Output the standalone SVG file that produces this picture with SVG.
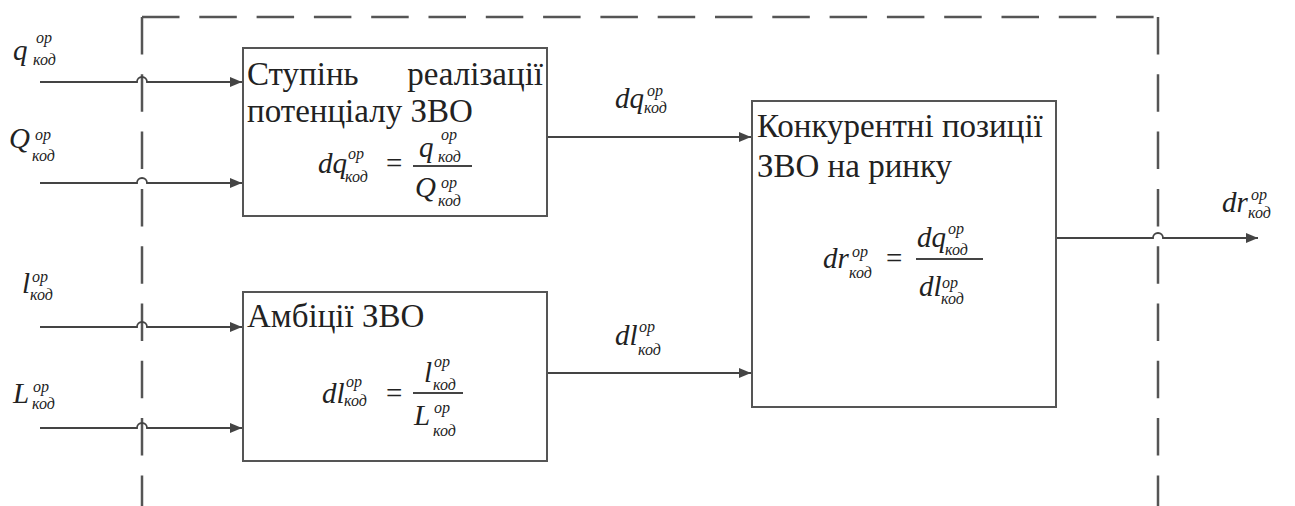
<svg xmlns="http://www.w3.org/2000/svg" width="1295" height="506" viewBox="0 0 1295 506">
<defs>
<marker id="ah" viewBox="0 0 12 10" refX="12" refY="5" markerWidth="12" markerHeight="10" markerUnits="userSpaceOnUse" orient="auto">
<path d="M0,0 L12,5 L0,10 Z" fill="#444"/>
</marker>
</defs>
<rect width="1295" height="506" fill="#fff"/>

<g id="boundary" fill="none" stroke="#555" stroke-width="2.5" stroke-dasharray="37.5 19.8">
<path d="M142,17 L1158,17"/>
<path d="M142,17 L142,506"/>
<path d="M1158,17 L1158,506"/>
</g>

<g id="connectors" fill="none" stroke="#444" stroke-width="1.8">
<path d="M40,82 L137,82 A5,5 0 0 1 147,82 L242,82" marker-end="url(#ah)"/>
<path d="M40,183 L137,183 A5,5 0 0 1 147,183 L242,183" marker-end="url(#ah)"/>
<path d="M40,327 L137,327 A5,5 0 0 1 147,327 L242,327" marker-end="url(#ah)"/>
<path d="M40,428 L137,428 A5,5 0 0 1 147,428 L242,428" marker-end="url(#ah)"/>
<path d="M547,137 L751,137" marker-end="url(#ah)"/>
<path d="M547,373 L751,373" marker-end="url(#ah)"/>
<path d="M1056,238 L1153,238 A5,5 0 0 1 1163,238 L1258,238" marker-end="url(#ah)"/>
</g>

<g id="in-q" fill="#222">
<text style="font-family:'Liberation Serif' !important;font-style:italic;font-size:29px" x="13" y="60">q</text>
<text style="font-family:'Liberation Serif' !important;font-style:italic;font-size:16px" x="36" y="43">op</text>
<text style="font-family:'Liberation Serif' !important;font-style:italic;font-size:16px" x="33" y="65">код</text>
</g>
<g id="in-Q" fill="#222">
<text style="font-family:'Liberation Serif' !important;font-style:italic;font-size:29px" x="9" y="148">Q</text>
<text style="font-family:'Liberation Serif' !important;font-style:italic;font-size:16px" x="35" y="140">op</text>
<text style="font-family:'Liberation Serif' !important;font-style:italic;font-size:16px" x="32" y="161">код</text>
</g>
<g id="in-l" fill="#222">
<text style="font-family:'Liberation Serif' !important;font-style:italic;font-size:29px" x="22" y="293">l</text>
<text style="font-family:'Liberation Serif' !important;font-style:italic;font-size:16px" x="32" y="282">op</text>
<text style="font-family:'Liberation Serif' !important;font-style:italic;font-size:16px" x="30" y="300">код</text>
</g>
<g id="in-L" fill="#222">
<text style="font-family:'Liberation Serif' !important;font-style:italic;font-size:29px" x="13" y="403">L</text>
<text style="font-family:'Liberation Serif' !important;font-style:italic;font-size:16px" x="33" y="392">op</text>
<text style="font-family:'Liberation Serif' !important;font-style:italic;font-size:16px" x="32" y="409">код</text>
</g>

<g id="box1" fill="#222">
<rect x="243" y="48" width="304" height="168" fill="#fff" stroke="#555" stroke-width="2"/>
<text style="font-family:'Liberation Serif' !important;font-size:33px" y="85"><tspan x="247">Ступінь</tspan><tspan x="543" text-anchor="end">реалізації</tspan></text>
<text style="font-family:'Liberation Serif' !important;font-size:33px" x="247" y="122">потенціалу ЗВО</text>
<text style="font-family:'Liberation Serif' !important;font-style:italic;font-size:29px" x="318" y="173">dq</text>
<text style="font-family:'Liberation Serif' !important;font-style:italic;font-size:16px" x="348" y="159">op</text>
<text style="font-family:'Liberation Serif' !important;font-style:italic;font-size:16px" x="345" y="182">код</text>
<text style="font-family:'Liberation Serif' !important;font-size:29px" x="386" y="173">=</text>
<line x1="413" y1="166" x2="472" y2="166" stroke="#444" stroke-width="1.8"/>
<text style="font-family:'Liberation Serif' !important;font-style:italic;font-size:29px" x="419" y="157">q</text>
<text style="font-family:'Liberation Serif' !important;font-style:italic;font-size:16px" x="441" y="140">op</text>
<text style="font-family:'Liberation Serif' !important;font-style:italic;font-size:16px" x="438" y="162">код</text>
<text style="font-family:'Liberation Serif' !important;font-style:italic;font-size:29px" x="415" y="197">Q</text>
<text style="font-family:'Liberation Serif' !important;font-style:italic;font-size:16px" x="441" y="188">op</text>
<text style="font-family:'Liberation Serif' !important;font-style:italic;font-size:16px" x="438" y="206">код</text>
</g>

<g id="box2" fill="#222">
<rect x="243" y="292" width="304" height="169" fill="#fff" stroke="#555" stroke-width="2"/>
<text style="font-family:'Liberation Serif' !important;font-size:33px" x="247" y="327">Амбіції ЗВО</text>
<text style="font-family:'Liberation Serif' !important;font-style:italic;font-size:29px" x="322" y="403">dl</text>
<text style="font-family:'Liberation Serif' !important;font-style:italic;font-size:16px" x="346" y="387">op</text>
<text style="font-family:'Liberation Serif' !important;font-style:italic;font-size:16px" x="344" y="406">код</text>
<text style="font-family:'Liberation Serif' !important;font-size:29px" x="386" y="403">=</text>
<line x1="413" y1="393" x2="463" y2="393" stroke="#444" stroke-width="1.8"/>
<text style="font-family:'Liberation Serif' !important;font-style:italic;font-size:29px" x="424" y="382">l</text>
<text style="font-family:'Liberation Serif' !important;font-style:italic;font-size:16px" x="434" y="367">op</text>
<text style="font-family:'Liberation Serif' !important;font-style:italic;font-size:16px" x="433" y="390">код</text>
<text style="font-family:'Liberation Serif' !important;font-style:italic;font-size:29px" x="414" y="425">L</text>
<text style="font-family:'Liberation Serif' !important;font-style:italic;font-size:16px" x="434" y="413">op</text>
<text style="font-family:'Liberation Serif' !important;font-style:italic;font-size:16px" x="433" y="436">код</text>
</g>

<g id="box3" fill="#222">
<rect x="752" y="101" width="304" height="306" fill="#fff" stroke="#555" stroke-width="2"/>
<text style="font-family:'Liberation Serif' !important;font-size:33px" x="757" y="137">Конкурентні позиції</text>
<text style="font-family:'Liberation Serif' !important;font-size:33px" x="757" y="177">ЗВО на ринку</text>
<text style="font-family:'Liberation Serif' !important;font-style:italic;font-size:29px" x="823" y="268">dr</text>
<text style="font-family:'Liberation Serif' !important;font-style:italic;font-size:16px" x="852" y="257">op</text>
<text style="font-family:'Liberation Serif' !important;font-style:italic;font-size:16px" x="849" y="278">код</text>
<text style="font-family:'Liberation Serif' !important;font-size:29px" x="886" y="268">=</text>
<line x1="916" y1="259" x2="983" y2="259" stroke="#444" stroke-width="1.8"/>
<text style="font-family:'Liberation Serif' !important;font-style:italic;font-size:29px" x="917" y="247">dq</text>
<text style="font-family:'Liberation Serif' !important;font-style:italic;font-size:16px" x="948" y="234">op</text>
<text style="font-family:'Liberation Serif' !important;font-style:italic;font-size:16px" x="945" y="255">код</text>
<text style="font-family:'Liberation Serif' !important;font-style:italic;font-size:29px" x="919" y="296">dl</text>
<text style="font-family:'Liberation Serif' !important;font-style:italic;font-size:16px" x="942" y="288">op</text>
<text style="font-family:'Liberation Serif' !important;font-style:italic;font-size:16px" x="941" y="304">код</text>
</g>

<g id="lbl-dq" fill="#222">
<text style="font-family:'Liberation Serif' !important;font-style:italic;font-size:29px" x="615" y="108">dq</text>
<text style="font-family:'Liberation Serif' !important;font-style:italic;font-size:16px" x="647" y="96">op</text>
<text style="font-family:'Liberation Serif' !important;font-style:italic;font-size:16px" x="644" y="113">код</text>
</g>
<g id="lbl-dl" fill="#222">
<text style="font-family:'Liberation Serif' !important;font-style:italic;font-size:29px" x="615" y="345">dl</text>
<text style="font-family:'Liberation Serif' !important;font-style:italic;font-size:16px" x="639" y="332">op</text>
<text style="font-family:'Liberation Serif' !important;font-style:italic;font-size:16px" x="638" y="355">код</text>
</g>
<g id="lbl-dr" fill="#222">
<text style="font-family:'Liberation Serif' !important;font-style:italic;font-size:29px" x="1222" y="212">dr</text>
<text style="font-family:'Liberation Serif' !important;font-style:italic;font-size:16px" x="1251" y="200">op</text>
<text style="font-family:'Liberation Serif' !important;font-style:italic;font-size:16px" x="1248" y="218">код</text>
</g>
</svg>
